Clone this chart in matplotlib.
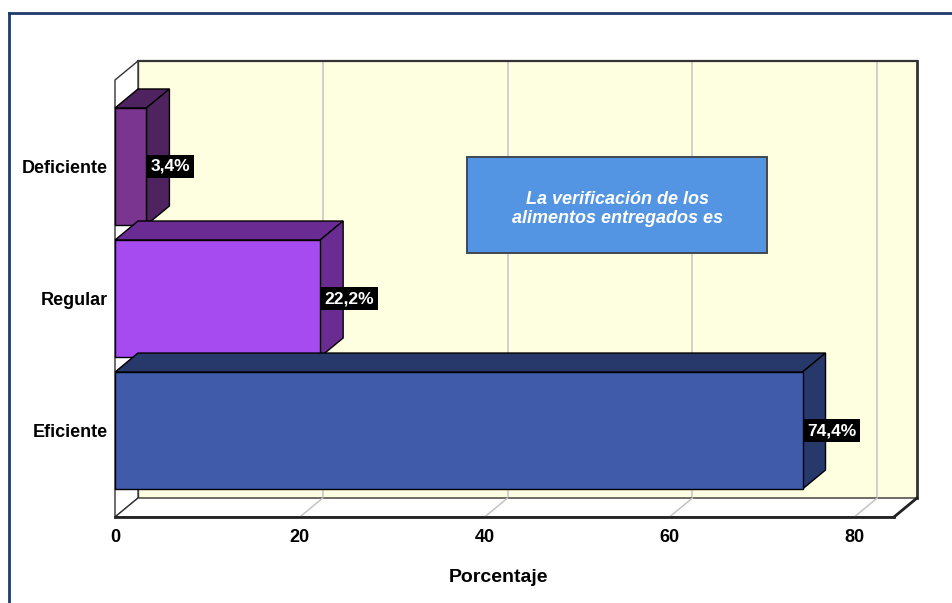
import matplotlib
matplotlib.use("Agg")
import matplotlib.pyplot as plt
from matplotlib.patches import Polygon, Rectangle
from matplotlib.lines import Line2D
from matplotlib import font_manager

categories = ["Eficiente", "Regular", "Deficiente"]
values = [74.4, 22.2, 3.4]
value_labels = ["74,4%", "22,2%", "3,4%"]
x_ticks = [0, 20, 40, 60, 80]
x_tick_labels = ["0", "20", "40", "60", "80"]
x_label = "Porcentaje"
box_text = "La verificación de los\nalimentos entregados es"

front_colors = ["#3F5BA9", "#A64BF0", "#7A3590"]
shade_colors = ["#27396B", "#6A2C93", "#4E2360"]

names = {f.name for f in font_manager.fontManager.ttflist}
narrow = "Liberation Sans Narrow" if "Liberation Sans Narrow" in names else "Liberation Sans"

W, H = 952, 603
fig = plt.figure(figsize=(W / 100, H / 100), dpi=100)
fig.patch.set_facecolor("white")

ax = fig.add_axes([115 / W, 86 / H, 779 / W, 437 / H])
xmax = 84.3
y0, y1 = -0.655, 2.655
ax.set_xlim(0, xmax)
ax.set_ylim(y0, y1)
for s in ax.spines.values():
    s.set_visible(False)
ax.patch.set_visible(False)

# depth offset in data units
px_x = 779 / xmax
px_y = 437 / (y1 - y0)
dx = 23 / px_x
dy = 19 / px_y

# back wall
ax.add_patch(Rectangle((dx, y0 + dy), xmax, y1 - y0, facecolor="#FEFEE1",
                       edgecolor="none", zorder=1, clip_on=False))
for t in x_ticks[1:]:
    ax.add_line(Line2D([t + dx, t + dx], [y0 + dy, y1 + dy], color="#C4C4C4",
                       lw=1.1, zorder=2, clip_on=False))
ax.add_line(Line2D([dx, xmax + dx], [y1 + dy, y1 + dy], color="#333333", lw=1.6, zorder=3, clip_on=False))
ax.add_line(Line2D([xmax + dx, xmax + dx], [y0 + dy, y1 + dy], color="#333333", lw=2.0, zorder=3, clip_on=False))
ax.add_line(Line2D([dx, dx], [y0 + dy, y1 + dy], color="#555555", lw=1.0, zorder=3, clip_on=False))

# left wall
ax.add_patch(Polygon([(0, y0), (0, y1), (dx, y1 + dy), (dx, y0 + dy)], closed=True,
                     facecolor="white", edgecolor="#333333", lw=1.0, zorder=3, clip_on=False))

# floor
ax.add_patch(Polygon([(0, y0), (xmax, y0), (xmax + dx, y0 + dy), (dx, y0 + dy)], closed=True,
                     facecolor="white", edgecolor="#333333", lw=1.0, zorder=3, clip_on=False))
for t in x_ticks[1:]:
    ax.add_line(Line2D([t, t + dx], [y0, y0 + dy], color="#C4C4C4", lw=1.1, zorder=3.5, clip_on=False))
ax.add_line(Line2D([0, xmax], [y0, y0], color="#222222", lw=2.0, zorder=4, clip_on=False))
ax.add_line(Line2D([xmax, xmax + dx], [y0, y0 + dy], color="#222222", lw=2.0, zorder=4, clip_on=False))

# bars (draw top category first)
hh = 0.443
order = sorted(range(len(categories)), key=lambda i: -i)
for k, i in enumerate(order):
    v = values[i]
    c = i
    z = 5 + k
    ax.add_patch(Polygon([(0, c + hh), (v, c + hh), (v + dx, c + hh + dy), (dx, c + hh + dy)],
                         closed=True, facecolor=shade_colors[i], edgecolor="black", lw=1.0,
                         zorder=z, clip_on=False))
    ax.add_patch(Polygon([(v, c - hh), (v, c + hh), (v + dx, c + hh + dy), (v + dx, c - hh + dy)],
                         closed=True, facecolor=shade_colors[i], edgecolor="black", lw=1.0,
                         zorder=z, clip_on=False))
    ax.add_patch(Rectangle((0, c - hh), v, 2 * hh, facecolor=front_colors[i], edgecolor="black",
                           lw=1.0, zorder=z + 0.1, clip_on=False))

# value labels
for i, v in enumerate(values):
    ax.annotate(value_labels[i], xy=(v, i), xytext=(3.2, 0), textcoords="offset points",
                ha="left", va="center", color="white", fontsize=12.5, fontweight="bold",
                family=[narrow, "DejaVu Sans"], zorder=20,
                bbox=dict(boxstyle="square,pad=0.22", facecolor="black", edgecolor="none"))

# ticks
ax.set_xticks(x_ticks)
ax.set_xticklabels(x_tick_labels, family=[narrow, "DejaVu Sans"], fontweight="bold", fontsize=13)
ax.tick_params(axis="x", length=0, pad=9)
ax.set_yticks(range(len(categories)))
ax.set_yticklabels(categories, family=["Liberation Sans", "DejaVu Sans"], fontweight="bold", fontsize=13)
ax.tick_params(axis="y", length=0, pad=5)

# axis label
fig.text(499 / W, 1 - 578 / H, x_label, ha="center", va="center", fontsize=14,
         fontweight="bold", family=["Liberation Sans", "DejaVu Sans"])

# annotation box
fig.patches.append(Rectangle((467 / W, 1 - 253 / H), 300 / W, 96 / H, transform=fig.transFigure,
                             facecolor="#5394E3", edgecolor="#404850", lw=1.4, zorder=30))
fig.text(617 / W, 1 - 209 / H, box_text, ha="center", va="center", color="white",
         fontsize=13, fontweight="bold", style="italic", linespacing=1.2,
         family=["Liberation Sans", "DejaVu Sans"], zorder=31)

# outer frame
fig.add_artist(Line2D([9 / W, 1], [1 - 13 / H, 1 - 13 / H], transform=fig.transFigure,
                      color="#1F3A6E", lw=2.0))
fig.add_artist(Line2D([9 / W, 9 / W], [0, 1 - 13 / H], transform=fig.transFigure,
                      color="#1F3A6E", lw=2.0))

fig.savefig("out.png", dpi=100)
